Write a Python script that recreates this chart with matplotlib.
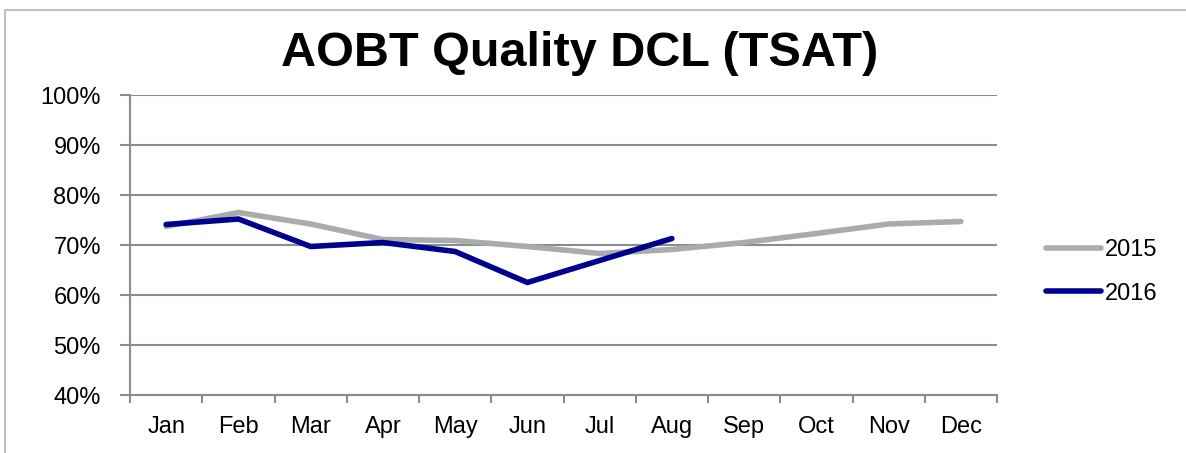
import matplotlib
matplotlib.use("Agg")
import matplotlib.pyplot as plt
from matplotlib.patches import Rectangle
from matplotlib.ticker import FixedLocator, NullFormatter

months = ["Jan", "Feb", "Mar", "Apr", "May", "Jun", "Jul", "Aug", "Sep", "Oct", "Nov", "Dec"]
y2015 = [73.7, 76.5, 74.2, 71.1, 70.9, 69.7, 68.3, 69.1, 70.5, 72.3, 74.2, 74.7]
y2016 = [74.1, 75.2, 69.7, 70.5, 68.7, 62.5, 66.9, 71.3]
yticks = [40, 50, 60, 70, 80, 90, 100]
title = "AOBT Quality DCL (TSAT)"

plt.rcParams['font.family'] = ['Liberation Sans', 'DejaVu Sans']

W, H = 1186, 453
fig = plt.figure(figsize=(W / 100, H / 100), dpi=100)
ax = fig.add_axes([130 / W, 1 - 395 / H, (997 - 130) / W, (395 - 95) / H])

LW = 4.0
x = list(range(len(months)))
ax.plot(x, y2015, color="#A7ADAC", lw=LW, solid_capstyle="round", solid_joinstyle="round", label="2015", zorder=3)
ax.plot(x[:len(y2016)], y2016, color="#00008E", lw=LW, solid_capstyle="round", solid_joinstyle="round", label="2016", zorder=4)

ax.set_xlim(-0.5, len(months) - 0.5)
ax.set_ylim(40, 100)
ax.set_yticks(yticks)
ax.set_yticklabels([f"{v}%" for v in yticks], fontsize=17)
ax.yaxis.grid(True, color="#8C8C8C", lw=1.5)
ax.set_axisbelow(True)

ax.set_xticks(x)
ax.set_xticklabels(months, fontsize=17)
ax.tick_params(axis="x", which="major", length=0, pad=15)
ax.xaxis.set_minor_locator(FixedLocator([i - 0.5 for i in range(len(months) + 1)]))
ax.xaxis.set_minor_formatter(NullFormatter())
ax.tick_params(axis="x", which="minor", length=6, width=1.5, color="#8C8C8C", direction="out")
ax.tick_params(axis="y", length=7, width=1.5, color="#8C8C8C", direction="out", pad=14)

for s in ["top", "right"]:
    ax.spines[s].set_visible(False)
for s in ["left", "bottom"]:
    ax.spines[s].set_color("#8C8C8C")
    ax.spines[s].set_linewidth(1.5)

fig.text(580 / W, 1 - 54 / H, title, ha="center", va="center", fontsize=35, fontweight="bold")

leg = fig.legend(loc="center left", bbox_to_anchor=(1046 / W, 1 - 272 / H), frameon=False,
                 fontsize=17, handlelength=2.35, handletextpad=0.15, labelspacing=0.9,
                 borderpad=0, borderaxespad=0)
for line in leg.get_lines():
    line.set_linewidth(LW)
    line.set_solid_capstyle("round")

# outer chart border
fig.add_artist(Rectangle((5 / W, -0.1), 1.2, 1 - 10 / H + 0.1, transform=fig.transFigure,
                         fill=False, edgecolor="#BFC3C3", lw=1.5))

fig.savefig("out.png", dpi=100)
